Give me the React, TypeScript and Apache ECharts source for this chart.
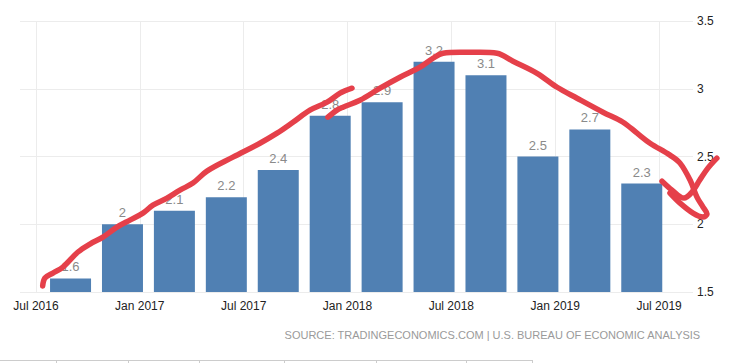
import React, { useEffect, useRef } from "react";
import * as echarts from "echarts";

// x positions are months counted from Jul 2016 (0 = Jul 2016)
const tickMonths = [0, 6, 12, 18, 24, 30, 36];
const tickLabels = ["Jul 2016", "Jan 2017", "Jul 2017", "Jan 2018", "Jul 2018", "Jan 2019", "Jul 2019"];
const barMonths = [2, 5, 8, 11, 14, 17, 20, 23, 26, 29, 32, 35];
const barValues = [1.6, 2.0, 2.1, 2.2, 2.4, 2.8, 2.9, 3.2, 3.1, 2.5, 2.7, 2.3];
const yTicks = [1.5, 2, 2.5, 3, 3.5];
const sourceText = "SOURCE: TRADINGECONOMICS.COM | U.S. BUREAU OF ECONOMIC ANALYSIS";

// hand-drawn red annotation strokes, [month, value]
const strokeA: [number, number][] = [
  [0.39, 1.544], [0.52, 1.603], [0.98, 1.64], [1.56, 1.684], [2.43, 1.795], [3.12, 1.854],
  [3.87, 1.905], [4.68, 1.979], [5.43, 2.031], [6.18, 2.082], [6.76, 2.141], [7.57, 2.193],
  [8.32, 2.252], [9.07, 2.304], [9.88, 2.392], [11.38, 2.495], [12.94, 2.598], [13.93, 2.672],
  [14.85, 2.753], [15.83, 2.842], [16.82, 2.901], [17.57, 2.967], [18.26, 3.004],
];
const strokeB: [number, number][] = [
  [16.87, 2.79], [17.39, 2.842], [17.74, 2.864], [18.72, 2.915], [19.88, 3.004], [21.03, 3.085],
  [22.19, 3.159], [22.94, 3.225], [23.52, 3.262], [24.5, 3.269], [25.66, 3.269], [26.64, 3.262],
  [27.56, 3.203], [28.95, 3.114], [30.11, 3.011], [31.26, 2.93], [32.76, 2.827], [33.92, 2.753],
  [34.73, 2.672], [35.48, 2.598], [36.63, 2.51], [37.21, 2.451], [37.79, 2.326], [38.19, 2.2],
  [38.54, 2.127], [38.77, 2.075], [38.54, 2.053], [37.96, 2.082], [37.21, 2.156], [36.63, 2.23],
];
const strokeC: [number, number][] = [
  [36.17, 2.318], [36.75, 2.252], [37.44, 2.193], [37.9, 2.237], [38.35, 2.326], [38.82, 2.414],
  [39.34, 2.488],
];

const tableSeparators = [56, 128, 199, 284, 376, 466, 532];

const X_MIN = -0.92;
const X_MAX = 37.96;

export default function App() {
  const ref = useRef<HTMLDivElement>(null);
  useEffect(() => {
    if (!ref.current) return;
    const chart = echarts.init(ref.current, null, { renderer: "svg" });
    const font = "'Liberation Sans', Arial, sans-serif";
    // overlay grid for the annotation: same scale, extended to the right edge
    const mainWidth = 741 - 20 - 48;
    const pxPerMonth = mainWidth / (X_MAX - X_MIN);
    const overlayMax = X_MIN + (741 - 20) / pxPerMonth;
    const redStyle = (data: [number, number][]) => ({
      type: "line",
      xAxisIndex: 1,
      yAxisIndex: 1,
      data,
      smooth: 0.35,
      showSymbol: false,
      symbol: "none",
      clip: false,
      z: 10,
      lineStyle: { color: "#e5404a", width: 5.5, cap: "round", join: "round" },
    });
    chart.setOption({
      animation: false,
      backgroundColor: "#ffffff",
      grid: [
        { left: 20, right: 48, top: 21, bottom: 71, containLabel: false },
        { left: 20, right: 0, top: 21, bottom: 71, containLabel: false },
      ],
      xAxis: [
        {
          type: "value",
          gridIndex: 0,
          min: X_MIN,
          max: X_MAX,
          axisLine: { show: false },
          axisTick: { show: false, customValues: tickMonths },
          splitLine: { show: true, lineStyle: { color: "#ececec", width: 1 } },
          axisLabel: {
            customValues: tickMonths,
            color: "#222",
            fontSize: 12,
            fontFamily: font,
            margin: 8,
            formatter: (v: number) => {
              const i = tickMonths.indexOf(Math.round(v));
              return i >= 0 ? tickLabels[i] : "";
            },
          },
        },
        {
          type: "value",
          gridIndex: 1,
          min: X_MIN,
          max: overlayMax,
          show: false,
        },
      ],
      yAxis: [
        {
          type: "value",
          gridIndex: 0,
          position: "right",
          min: 1.5,
          max: 3.5,
          interval: 0.5,
          axisLine: { show: false },
          axisTick: { show: false },
          splitLine: { show: true, lineStyle: { color: "#ececec", width: 1 } },
          axisLabel: {
            color: "#222",
            fontSize: 12,
            fontFamily: font,
            margin: 4,
            formatter: (v: number) => (yTicks.includes(v) ? String(v) : ""),
          },
        },
        {
          type: "value",
          gridIndex: 1,
          min: 1.5,
          max: 3.5,
          show: false,
        },
      ],
      series: [
        {
          type: "bar",
          xAxisIndex: 0,
          yAxisIndex: 0,
          data: barMonths.map((m, i) => [m, barValues[i]]),
          barWidth: 41,
          itemStyle: { color: "#5080b3" },
          label: {
            show: true,
            position: "top",
            distance: 5,
            color: "#8a8a8a",
            fontSize: 13,
            fontFamily: font,
            formatter: (p: any) => String(p.value[1]),
          },
        },
        redStyle(strokeA),
        redStyle(strokeB),
        redStyle(strokeC),
      ],
      graphic: [
        {
          type: "text",
          right: 40,
          top: 329,
          style: {
            text: sourceText,
            fill: "#9a9a9a",
            fontSize: 11,
            fontFamily: font,
          },
        },
        {
          type: "line",
          shape: { x1: 0, y1: 360.5, x2: 532, y2: 360.5 },
          style: { stroke: "#cccccc", lineWidth: 1 },
        },
        ...tableSeparators.map((x) => ({
          type: "line",
          shape: { x1: x + 0.5, y1: 360, x2: x + 0.5, y2: 363 },
          style: { stroke: "#cccccc", lineWidth: 1 },
        })),
      ],
    });
    return () => chart.dispose();
  }, []);
  return <div ref={ref} style={{ width: 741, height: 363, position: "absolute", left: 0, top: 0 }} />;
}
